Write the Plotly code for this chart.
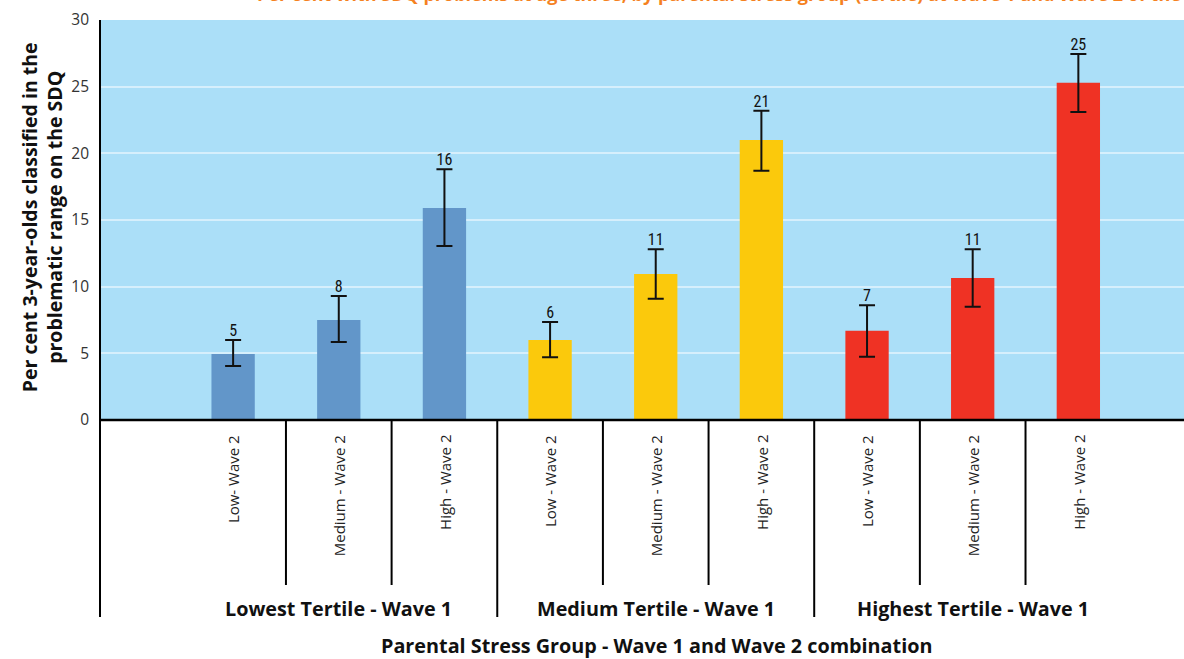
import plotly.graph_objects as go

# ---- data ----
categories = ["Low- Wave 2", "Medium - Wave 2", "High - Wave 2",
              "Low - Wave 2", "Medium - Wave 2", "High - Wave 2",
              "Low - Wave 2", "Medium - Wave 2", "High - Wave 2"]
groups = ["Lowest Tertile - Wave 1", "Medium Tertile - Wave 1", "Highest Tertile - Wave 1"]
values = [4.95, 7.5, 15.9, 6.0, 10.95, 21.0, 6.7, 10.65, 25.3]
err_plus = [1.05, 1.8, 2.9, 1.35, 1.85, 2.2, 1.9, 2.15, 2.15]
err_minus = [0.9, 1.65, 2.85, 1.3, 1.85, 2.3, 1.95, 2.15, 2.2]
value_labels = ["5", "8", "16", "6", "11", "21", "7", "11", "25"]
group_colors = ["#6296C9", "#FBC90C", "#EF3224"]

x_idx = list(range(len(categories)))
bar_colors = [group_colors[i // 3] for i in x_idx]
upper = [v + e for v, e in zip(values, err_plus)]

fig = go.Figure()
fig.add_trace(go.Bar(
    x=x_idx, y=values, width=0.41,
    marker=dict(color=bar_colors, line=dict(width=0)),
    error_y=dict(type="data", symmetric=False, array=err_plus, arrayminus=err_minus,
                 color="#111111", thickness=2, width=8),
    showlegend=False, hoverinfo="skip",
))
fig.add_trace(go.Scatter(
    x=x_idx, y=upper, mode="text", text=value_labels, textposition="top center",
    textfont=dict(family="Liberation Sans Narrow, Arial Narrow, Roboto Condensed, sans-serif",
                  size=16, color="#111111"),
    showlegend=False, hoverinfo="skip",
))

shapes = []
# x axis line
shapes.append(dict(type="line", xref="paper", yref="paper", x0=0, x1=1, y0=0, y1=0,
                   line=dict(color="#000000", width=2.5)))
# left axis line (extends below)
shapes.append(dict(type="line", xref="paper", yref="paper", x0=0, x1=0, y0=-0.4925, y1=1,
                   line=dict(color="#000000", width=2)))
# separators between categories
for b in [0.5, 1.5, 2.5, 3.5, 4.5, 5.5, 6.5, 7.5]:
    long = b in (2.5, 5.5)
    shapes.append(dict(type="line", xref="x", yref="paper", x0=b, x1=b,
                       y0=-0.4925 if long else -0.4125, y1=0,
                       line=dict(color="#000000", width=2)))

annotations = []
for i, c in enumerate(categories):
    annotations.append(dict(x=i, y=-0.0325, xref="x", yref="paper", text=c, textangle=-90,
                            showarrow=False, xanchor="center", yanchor="top",
                            font=dict(family="Open Sans", size=15, color="#222222")))
for g, name in enumerate(groups):
    annotations.append(dict(x=g * 3 + 1, y=-0.47, xref="x", yref="paper", text="<b>%s</b>" % name,
                            showarrow=False, xanchor="center", yanchor="middle",
                            font=dict(family="Open Sans", size=19.8, color="#111111")))
annotations.append(dict(x=(656 - 100) / 1084, y=-0.564, xref="paper", yref="paper",
                        text="<b>Parental Stress Group - Wave 1 and Wave 2 combination</b>",
                        showarrow=False, xanchor="center", yanchor="middle",
                        font=dict(family="Open Sans", size=19.8, color="#111111")))
annotations.append(dict(x=(42 - 100) / 1084, y=0.507, xref="paper", yref="paper",
                        text="<b>Per cent 3-year-olds classified in the<br>problematic range on the SDQ</b>",
                        textangle=-90, showarrow=False, xanchor="center", yanchor="middle",
                        font=dict(family="Open Sans", size=19.5, color="#111111")))
# clipped title at the very top
annotations.append(dict(x=(255 - 100) / 1084, y=1 + 12 / 400, xref="paper", yref="paper",
                        text="<b>Per cent with SDQ problems at age three, by parental stress group (tertile) at Wave 1 and Wave 2 of the study</b>",
                        showarrow=False, xanchor="left", yanchor="bottom",
                        font=dict(family="Open Sans", size=18, color="#F5821F")))

fig.update_layout(
    width=1184, height=659,
    margin=dict(l=100, r=0, t=20, b=239),
    paper_bgcolor="#FFFFFF", plot_bgcolor="#ABDFF8",
    shapes=shapes, annotations=annotations,
    xaxis=dict(range=[-1.26, 9.0], showticklabels=False, showgrid=False, zeroline=False,
               showline=False, ticks=""),
    yaxis=dict(range=[0, 30], tickvals=[0, 5, 10, 15, 20, 25, 30], showgrid=True,
               gridcolor="#D6EFFC", gridwidth=2, zeroline=False, showline=False, ticks="",
               ticklabelstandoff=10,
               tickfont=dict(family="Open Sans", size=15.5, color="#333333")),
    bargap=0.5,
)

fig.write_html("out.html", config={"displayModeBar": False},
               post_script="document.body.style.margin='0px';document.body.style.overflow='hidden';")
